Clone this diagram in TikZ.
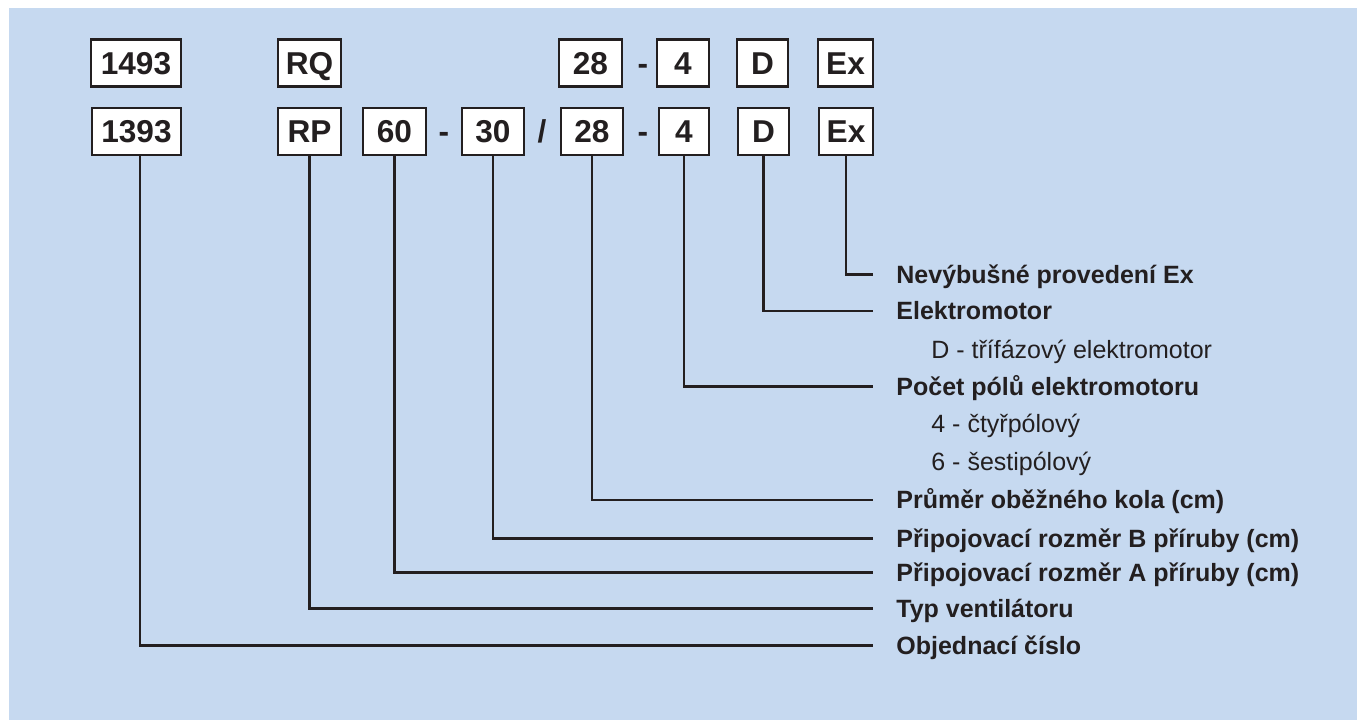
\documentclass[tikz,border=0pt]{standalone}
\usepackage{fontspec}
\setmainfont{Liberation Sans}
\definecolor{panelblue}{RGB}{198,217,240}
\definecolor{inkgray}{RGB}{35,31,32}
\tikzset{
  codebox/.style={draw=inkgray, fill=white, line width=1.35pt, inner sep=0pt,
    minimum height=23.5pt, text height=11.3pt, text depth=0pt,
    text=inkgray, font=\fontsize{15.8}{18}\selectfont\bfseries},
  sepmark/.style={inner sep=0pt, text height=11.3pt, text depth=0pt,
    text=inkgray, font=\fontsize{15.8}{18}\selectfont\bfseries},
  mainlabel/.style={anchor=west, inner sep=0pt, text height=8.9pt, text depth=0pt,
    text=inkgray, font=\fontsize{12.5}{15}\selectfont\bfseries},
  sublabel/.style={anchor=west, inner sep=0pt, text height=8.9pt, text depth=0pt,
    text=inkgray, font=\fontsize{12.5}{15}\selectfont},
  conn/.style={draw=inkgray, line width=1.35pt}
}
\begin{document}
\begin{tikzpicture}[x=0.5pt, y=-0.5pt]
\useasboundingbox (0,0) rectangle (1357,720);
\fill [panelblue] (9,8) rectangle (1357,720);
% first code line
\node[codebox, minimum width=45pt] (a1493) at (136,63) {1493};
\node[codebox, minimum width=31.5pt] (aRQ) at (309.5,63) {RQ};
\node[codebox, minimum width=31.5pt] (a28) at (590.5,63) {28};
\node[sepmark] (aDash) at (643,63) {-};
\node[codebox, minimum width=26pt] (a4) at (683,63) {4};
\node[codebox, minimum width=25.5pt] (aD) at (762.5,63) {D};
\node[codebox, minimum width=27.5pt] (aEx) at (845.5,63) {Ex};
% second code line
\node[codebox, minimum width=44.5pt] (b1393) at (136.5,131.5) {1393};
\node[codebox, minimum width=31.5pt] (bRP) at (309.5,131.5) {RP};
\node[codebox, minimum width=31.5pt] (b60) at (394.5,131.5) {60};
\node[sepmark] (bDashA) at (444,131.5) {-};
\node[codebox, minimum width=31pt] (b30) at (493,131.5) {30};
\node[sepmark] (bSlash) at (542,131.5) {/};
\node[codebox, minimum width=31pt] (b28) at (592,131.5) {28};
\node[sepmark] (bDashB) at (643,131.5) {-};
\node[codebox, minimum width=25pt] (b4) at (684,131.5) {4};
\node[codebox, minimum width=25.5pt] (bD) at (763.5,131.5) {D};
\node[codebox, minimum width=27pt] (bEx) at (846,131.5) {Ex};
% legend
\node[mainlabel] (lEx) at (896,274.3) {Nevýbušné provedení Ex};
\node[mainlabel] (lMotor) at (896,311) {Elektromotor};
\node[sublabel] (sMotor) at (931,349.5) {D - třífázový elektromotor};
\node[mainlabel] (lPoles) at (896,386.7) {Počet pólů elektromotoru};
\node[sublabel] (sPoles4) at (931,423.5) {4 - čtyřpólový};
\node[sublabel] (sPoles6) at (931,462) {6 - šestipólový};
\node[mainlabel] (lWheel) at (896,500) {Průměr oběžného kola (cm)};
\node[mainlabel] (lFlangeB) at (896,538.3) {Připojovací rozměr B příruby (cm)};
\node[mainlabel] (lFlangeA) at (896,572.7) {Připojovací rozměr A příruby (cm)};
\node[mainlabel] (lType) at (896,608.3) {Typ ventilátoru};
\node[mainlabel] (lOrder) at (896,645.7) {Objednací číslo};
% connectors
\draw[conn] (bEx.south) |- ([xshift=-11.5pt]lEx.west);
\draw[conn] (bD.south) |- ([xshift=-11.5pt]lMotor.west);
\draw[conn] (b4.south) |- ([xshift=-11.5pt]lPoles.west);
\draw[conn] (b28.south) |- ([xshift=-11.5pt]lWheel.west);
\draw[conn] (b30.south) |- ([xshift=-11.5pt]lFlangeB.west);
\draw[conn] (b60.south) |- ([xshift=-11.5pt]lFlangeA.west);
\draw[conn] (bRP.south) |- ([xshift=-11.5pt]lType.west);
\draw[conn] ([xshift=1.75pt]b1393.south) |- ([xshift=-11.5pt]lOrder.west);
\end{tikzpicture}
\end{document}
